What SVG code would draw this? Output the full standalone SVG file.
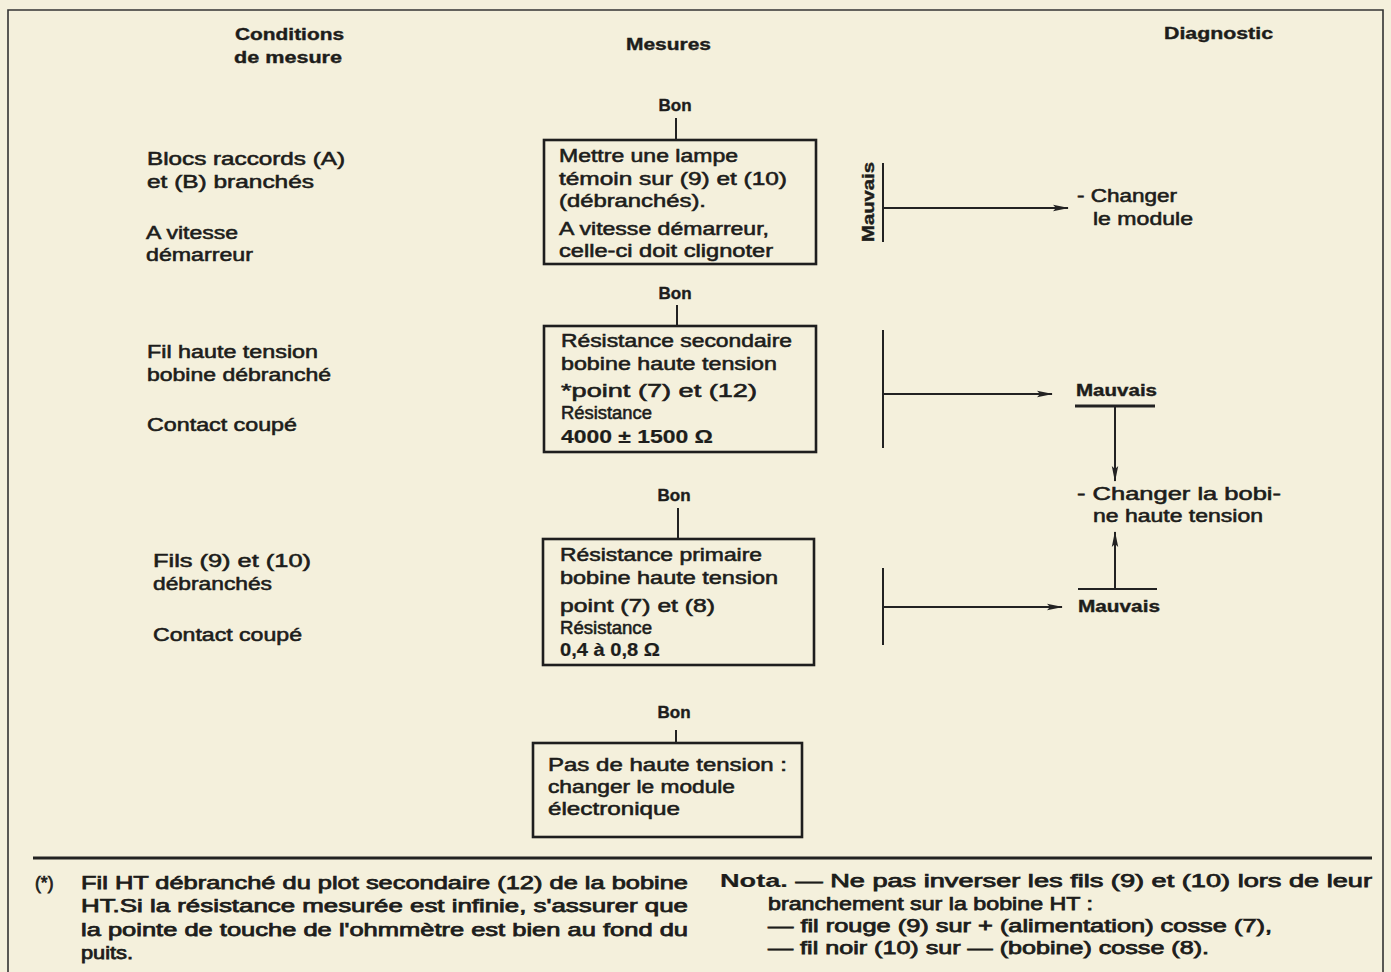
<svg xmlns="http://www.w3.org/2000/svg" width="1391" height="972" viewBox="0 0 1391 972">
  <defs>
    <marker id="arr" viewBox="0 0 16 8" refX="15" refY="4" markerWidth="16" markerHeight="8" markerUnits="userSpaceOnUse" orient="auto">
      <path d="M0,0.8 L16,4 L0,7.2 L3,4 Z" fill="#222"/>
    </marker>
    <style>
      .t { font-family: "Liberation Sans", Arial, sans-serif; font-size: 17.5px; fill: #1d1d1b; stroke: #1d1d1b; stroke-width: 0.55; }
      .f { stroke-width: 0.75; }
      .h { font-family: "Liberation Sans", Arial, sans-serif; font-size: 17px; font-weight: bold; fill: #1d1d1b; stroke: #1d1d1b; stroke-width: 0.4; }
      .b { font-weight: bold; stroke-width: 0.2; }
      .box { fill: none; stroke: #1e1e1e; stroke-width: 2.6; }
      .ln { fill: none; stroke: #222; stroke-width: 2; }
      .frame { fill: none; stroke: #333; stroke-width: 1.6; }
    </style>
  </defs>

  <!-- paper -->
  <rect x="0" y="0" width="1391" height="972" fill="#f4f0dc"/>

  <!-- page frame and footnote rule -->
  <g id="frame">
    <path class="frame" d="M8,972 V10 H1383 V972"/>
    <line x1="33" y1="858" x2="1372" y2="858" stroke="#222" stroke-width="3"/>
  </g>

  <!-- column headings -->
  <g id="headings">
    <text class="h" x="235" y="40" textLength="109" lengthAdjust="spacingAndGlyphs">Conditions</text>
    <text class="h" x="234" y="63" textLength="108" lengthAdjust="spacingAndGlyphs">de mesure</text>
    <text class="h" x="626" y="50" textLength="85" lengthAdjust="spacingAndGlyphs">Mesures</text>
    <text class="h" x="1164" y="39" textLength="109" lengthAdjust="spacingAndGlyphs">Diagnostic</text>
  </g>

  <!-- measurement conditions -->
  <g id="cond-1">
    <text class="t" x="147" y="165" textLength="198" lengthAdjust="spacingAndGlyphs">Blocs raccords  (A)</text>
    <text class="t" x="147" y="188" textLength="167" lengthAdjust="spacingAndGlyphs">et  (B)  branchés</text>
    <text class="t" x="146" y="239" textLength="92" lengthAdjust="spacingAndGlyphs">A vitesse</text>
    <text class="t" x="146" y="261" textLength="107" lengthAdjust="spacingAndGlyphs">démarreur</text>
  </g>
  <g id="cond-2">
    <text class="t" x="147" y="358" textLength="171" lengthAdjust="spacingAndGlyphs">Fil haute tension</text>
    <text class="t" x="147" y="381" textLength="184" lengthAdjust="spacingAndGlyphs">bobine débranché</text>
    <text class="t" x="147" y="431" textLength="150" lengthAdjust="spacingAndGlyphs">Contact coupé</text>
  </g>
  <g id="cond-3">
    <text class="t" x="153" y="567" textLength="158" lengthAdjust="spacingAndGlyphs">Fils (9) et (10)</text>
    <text class="t" x="153" y="590" textLength="119" lengthAdjust="spacingAndGlyphs">débranchés</text>
    <text class="t" x="153" y="641" textLength="149" lengthAdjust="spacingAndGlyphs">Contact coupé</text>
  </g>

  <!-- measurement boxes -->
  <g id="bon-1">
    <text class="h" x="675" y="111" text-anchor="middle">Bon</text>
  </g>
  <g id="box-1">
    <rect class="box" x="544" y="140" width="272" height="124"/>
    <text class="t" x="559" y="162" textLength="179" lengthAdjust="spacingAndGlyphs">Mettre une lampe</text>
    <text class="t" x="559" y="185" textLength="228" lengthAdjust="spacingAndGlyphs">témoin sur (9) et (10)</text>
    <text class="t" x="559" y="207" textLength="147" lengthAdjust="spacingAndGlyphs">(débranchés).</text>
    <text class="t" x="559" y="235" textLength="210" lengthAdjust="spacingAndGlyphs">A vitesse démarreur,</text>
    <text class="t" x="559" y="257" textLength="214" lengthAdjust="spacingAndGlyphs">celle-ci doit clignoter</text>
  </g>

  <g id="bon-2">
    <text class="h" x="675" y="299" text-anchor="middle">Bon</text>
  </g>
  <g id="box-2">
    <rect class="box" x="544" y="326" width="272" height="126"/>
    <text class="t" x="561" y="347" textLength="231" lengthAdjust="spacingAndGlyphs">Résistance secondaire</text>
    <text class="t" x="561" y="370" textLength="216" lengthAdjust="spacingAndGlyphs">bobine haute tension</text>
    <text class="t" x="561" y="397" textLength="196" lengthAdjust="spacingAndGlyphs">*point (7) et (12)</text>
    <text class="t" x="561" y="419" textLength="91" lengthAdjust="spacingAndGlyphs">Résistance</text>
    <text class="t b" x="561" y="443" textLength="152" lengthAdjust="spacingAndGlyphs">4000 ± 1500 Ω</text>
  </g>

  <g id="bon-3">
    <text class="h" x="674" y="501" text-anchor="middle">Bon</text>
  </g>
  <g id="box-3">
    <rect class="box" x="543" y="539" width="271" height="126"/>
    <text class="t" x="560" y="561" textLength="202" lengthAdjust="spacingAndGlyphs">Résistance primaire</text>
    <text class="t" x="560" y="584" textLength="218" lengthAdjust="spacingAndGlyphs">bobine haute tension</text>
    <text class="t" x="560" y="612" textLength="155" lengthAdjust="spacingAndGlyphs">point (7) et (8)</text>
    <text class="t" x="560" y="634" textLength="92" lengthAdjust="spacingAndGlyphs">Résistance</text>
    <text class="t b" x="560" y="656" textLength="100" lengthAdjust="spacingAndGlyphs">0,4 à 0,8 Ω</text>
  </g>

  <g id="bon-4">
    <text class="h" x="674" y="718" text-anchor="middle">Bon</text>
  </g>
  <g id="box-4">
    <rect class="box" x="533" y="743" width="269" height="94"/>
    <text class="t" x="548" y="771" textLength="239" lengthAdjust="spacingAndGlyphs">Pas de haute tension :</text>
    <text class="t" x="548" y="793" textLength="187" lengthAdjust="spacingAndGlyphs">changer le module</text>
    <text class="t" x="548" y="815" textLength="132" lengthAdjust="spacingAndGlyphs">électronique</text>
  </g>

  <!-- diagnostics -->
  <g id="mauvais-1">
    <text class="h" transform="translate(874,202) rotate(-90)" text-anchor="middle" textLength="80" lengthAdjust="spacingAndGlyphs">Mauvais</text>
  </g>
  <g id="diag-1">
    <text class="t" x="1077" y="202" textLength="100" lengthAdjust="spacingAndGlyphs">-  Changer</text>
    <text class="t" x="1093" y="225" textLength="100" lengthAdjust="spacingAndGlyphs">le module</text>
  </g>
  <g id="mauvais-2">
    <text class="h" x="1076" y="396" textLength="81" lengthAdjust="spacingAndGlyphs">Mauvais</text>
  </g>
  <g id="diag-2">
    <text class="t" x="1077" y="500" textLength="204" lengthAdjust="spacingAndGlyphs">-  Changer  la  bobi-</text>
    <text class="t" x="1093" y="522" textLength="170" lengthAdjust="spacingAndGlyphs">ne haute tension</text>
  </g>
  <g id="mauvais-3">
    <text class="h" x="1078" y="612" textLength="82" lengthAdjust="spacingAndGlyphs">Mauvais</text>
  </g>

  <!-- connectors -->
  <g id="connectors">
    <line class="ln" x1="676" y1="118" x2="676" y2="140"/>
    <line class="ln" x1="677" y1="305" x2="677" y2="326"/>
    <line class="ln" x1="678" y1="508" x2="678" y2="539"/>
    <line class="ln" x1="676" y1="730" x2="676" y2="743"/>

    <!-- first fault branch -->
    <line class="ln" x1="883" y1="163" x2="883" y2="242"/>
    <line class="ln" x1="883" y1="208" x2="1068" y2="208" marker-end="url(#arr)"/>

    <!-- second fault branch -->
    <line class="ln" x1="883" y1="330" x2="883" y2="448"/>
    <line class="ln" x1="883" y1="394" x2="1052" y2="394" marker-end="url(#arr)"/>
    <line x1="1075" y1="406" x2="1155" y2="406" stroke="#222" stroke-width="3"/>
    <line class="ln" x1="1115" y1="406" x2="1115" y2="481" marker-end="url(#arr)"/>

    <!-- third fault branch -->
    <line class="ln" x1="883" y1="568" x2="883" y2="645"/>
    <line class="ln" x1="883" y1="607" x2="1062" y2="607" marker-end="url(#arr)"/>
    <line x1="1078" y1="589" x2="1157" y2="589" stroke="#222" stroke-width="2"/>
    <line class="ln" x1="1115" y1="589" x2="1115" y2="532" marker-end="url(#arr)"/>
  </g>

  <!-- footnote -->
  <g id="footnote">
    <text class="t f" x="35" y="889">(*)</text>
    <text class="t f" x="81" y="889" textLength="607" lengthAdjust="spacingAndGlyphs">Fil HT débranché du plot secondaire (12) de la bobine</text>
    <text class="t f" x="81" y="912" textLength="607" lengthAdjust="spacingAndGlyphs">HT.Si la résistance mesurée est infinie, s'assurer que</text>
    <text class="t f" x="81" y="936" textLength="607" lengthAdjust="spacingAndGlyphs">la pointe de touche de l'ohmmètre est bien au fond du</text>
    <text class="t f" x="81" y="959" textLength="52" lengthAdjust="spacingAndGlyphs">puits.</text>
  </g>

  <!-- wiring note -->
  <g id="nota">
    <text class="t f" x="720" y="887" textLength="652" lengthAdjust="spacingAndGlyphs"><tspan class="b">Nota.</tspan> — Ne pas inverser les fils (9) et (10) lors de leur</text>
    <text class="t f" x="768" y="910" textLength="325" lengthAdjust="spacingAndGlyphs">branchement sur la bobine HT :</text>
    <text class="t f" x="768" y="932" textLength="504" lengthAdjust="spacingAndGlyphs">— fil rouge (9) sur + (alimentation) cosse (7),</text>
    <text class="t f" x="768" y="954" textLength="441" lengthAdjust="spacingAndGlyphs">— fil noir (10) sur — (bobine) cosse (8).</text>
  </g>
</svg>
